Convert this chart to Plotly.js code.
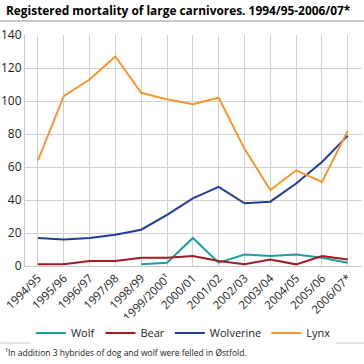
<!DOCTYPE html>
<html><head><meta charset="utf-8">
<script src="https://cdn.plot.ly/plotly-3.0.1.min.js"></script>
<style>html,body{margin:0;padding:0;background:#fff}#c{width:364px;height:364px}</style>
</head><body><div id="c"></div>
<script>
const categories = ["1994/95","1995/96","1996/97","1997/98","1998/99","1999/2000¹","2000/01","2001/02","2002/03","2003/04","2004/05","2005/06","2006/07*"];
const wolf = [null,null,null,null,1,2,17,2,7,6,7,5,2];
const bear = [1,1,3,3,5,5,6,3,1,4,1,6,4];
const wolverine = [17,16,17,19,22,31,41,48,38,39,50,63,79];
const lynx = [64,103,113,127,105,101,98,102,71,46,58,51,82];
const yTicks = [0,20,40,60,80,100,120,140];

const font = "Open Sans, sans-serif";
function tr(name, y, color){
  return {x: categories.map((c,i)=>i), y: y, name: name, type:'scatter', mode:'lines',
    line:{color:color, width:2}, connectgaps:false, hoverinfo:'skip'};
}
const data = [
  tr('Wolf', wolf, '#1aa19c'),
  tr('Bear', bear, '#a31a22'),
  tr('Wolverine', wolverine, '#1f3e96'),
  tr('Lynx', lynx, '#f7952e')
];
const layout = {
  width:364, height:364,
  margin:{l:25, r:2, t:35, b:98},
  paper_bgcolor:'#fff', plot_bgcolor:'#fff',
  font:{family:font, size:11, color:'#222'},
  showlegend:true,
  legend:{orientation:'h', x:0.47, xanchor:'center', y:-0.29, yanchor:'middle',
    font:{size:11, color:'#222'}, itemwidth:30, tracegroupgap:0},
  xaxis:{range:[-0.5,12.55], tickmode:'array', tickvals:categories.map((c,i)=>i), ticktext:categories,
    tickangle:-45, showgrid:true, gridcolor:'#d0d0d0', gridwidth:1, zeroline:false,
    showline:true, linecolor:'#c8c8c8', ticks:'', tickfont:{size:11.5, color:'#222'}, fixedrange:true},
  yaxis:{range:[0,140], tickmode:'array', tickvals:yTicks, showgrid:true, gridcolor:'#d0d0d0',
    zeroline:false, showline:true, linecolor:'#c8c8c8', ticks:'', tickfont:{size:12, color:'#222'}, fixedrange:true},
  annotations:[
    {text:'<b>Registered mortality of large carnivores. 1994/95-2006/07*</b>', xref:'paper', yref:'paper',
     x:-0.062, y:(266-10)/231, xanchor:'left', yanchor:'middle', showarrow:false, font:{size:11.9, color:'#000'}},
    {text:'¹In addition 3 hybrides of dog and wolf were felled in Østfold.', xref:'paper', yref:'paper',
     x:-0.065, y:(266-352)/231, xanchor:'left', yanchor:'middle', showarrow:false, font:{size:8.5, color:'#222'}}
  ],
  shapes:[
    {type:'line', xref:'paper', yref:'paper', x0:-0.074, x1:1.006, y0:(266-21)/231, y1:(266-21)/231, line:{color:'#c8c8c8', width:2}},
    {type:'line', xref:'paper', yref:'paper', x0:-0.074, x1:1.006, y0:(266-343)/231, y1:(266-343)/231, line:{color:'#c8c8c8', width:1}}
  ]
};
Plotly.newPlot('c', data, layout, {displayModeBar:false, staticPlot:true});
</script></body></html>
